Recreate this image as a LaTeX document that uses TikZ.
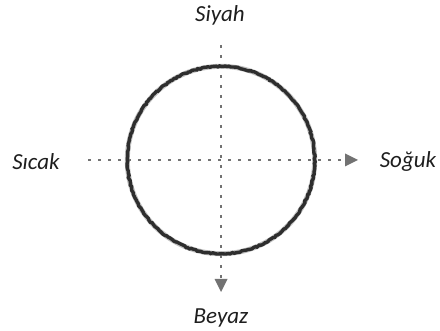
\documentclass[tikz,border=0pt]{standalone}
\usepackage{fontspec}
\setmainfont{Carlito}
\usetikzlibrary{arrows.meta,decorations.pathmorphing}
\definecolor{axisgray}{HTML}{727272}
\definecolor{ringgray}{HTML}{2E2E2E}
\definecolor{labelcol}{HTML}{1E1E1E}
\tikzset{
  lbl/.style={font=\fontsize{23}{25}\selectfont\itshape, text=labelcol, inner sep=0pt},
  axis/.style={draw=axisgray, line width=2.8pt, dash pattern=on 2.8pt off 7.2pt,
    -{Triangle[length=13pt,width=13pt,line width=0pt]}},
  ring/.style={draw=ringgray, line width=3.4pt},
}
\begin{document}
\begin{tikzpicture}[x=1pt,y=-1pt]
\useasboundingbox (0,0) rectangle (440,331);
\node[lbl] (siyah) at (220,15) {Siyah};
\node[lbl] (sicak) at (36,162) {Sıcak};
\node[lbl] (soguk) at (408,161) {Soğuk};
\node[lbl] (beyaz) at (221,318) {Beyaz};
\coordinate (c) at (221,160);
\coordinate (hstart) at (88,160);
\coordinate (hend) at (358,160);
\coordinate (vstart) at (221,45);
\coordinate (vend) at (221,292);
\draw[axis] (hstart) -- (hend);
\draw[axis] (vstart) -- (vend);
\draw[ringgray!60, line width=5pt, opacity=0.5] (c) circle [radius=93.7];
\draw[ring, decorate, decoration={random steps, segment length=2pt, amplitude=0.6pt}] (c) circle [radius=93.7];
\end{tikzpicture}
\end{document}
